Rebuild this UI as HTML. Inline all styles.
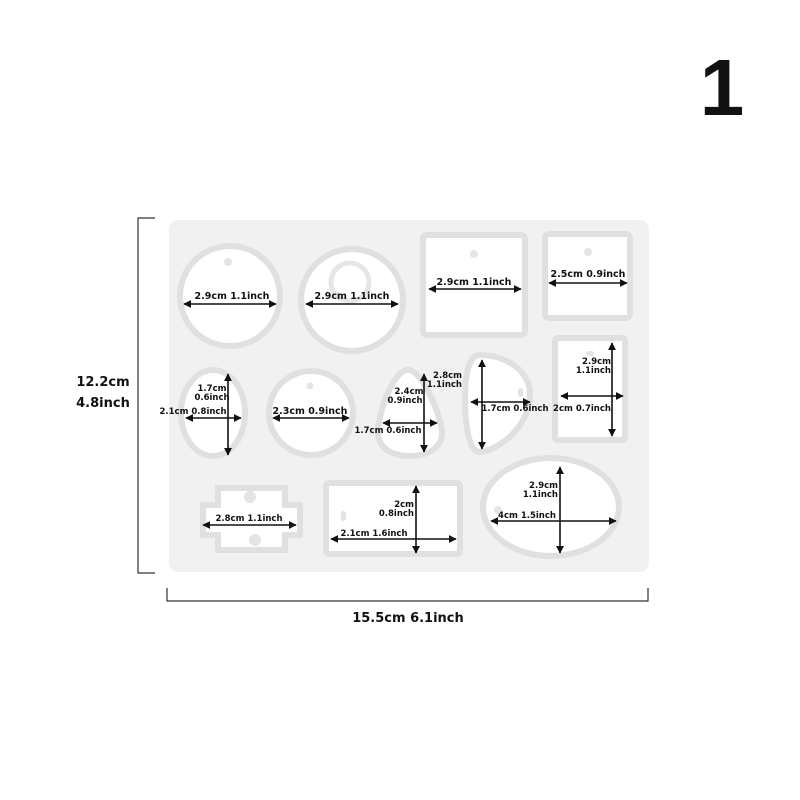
<!DOCTYPE html>
<html><head><style>
html,body{margin:0;padding:0;background:#fff;}
svg{display:block;}
text{font-family:"DejaVu Sans","Liberation Sans",sans-serif;font-weight:bold;fill:#111;}
.l{font-size:9.5px;}
.s{font-size:8.5px;}
</style></head><body>
<svg width="800" height="800" viewBox="0 0 800 800" xmlns="http://www.w3.org/2000/svg">
<defs>
<marker id="a" viewBox="0 0 10 10" refX="9" refY="5" markerWidth="5" markerHeight="5" orient="auto-start-reverse"><path d="M0,0L10,5L0,10z" fill="#111"/></marker>
</defs>
<text x="722" y="115" style="font-family:'Liberation Sans',sans-serif;font-size:80px;font-weight:bold" text-anchor="middle">1</text>

<rect x="169" y="220" width="480" height="352" rx="9" fill="#f1f1f1"/>

<g fill="#fff" stroke="#e0e0e0" stroke-width="6">
<circle cx="230" cy="296" r="50"/>
<circle cx="352" cy="300" r="51"/>
<rect x="423" y="235" width="102" height="100" rx="4"/>
<rect x="545" y="234" width="85" height="84" rx="4"/>
<ellipse cx="213" cy="413" rx="32" ry="43"/>
<circle cx="311" cy="413" r="42"/>
<path d="M410,370 C425,375 442,420 442,432 C442,450 425,456 410,456 C392,456 378,448 378,432 C378,412 395,366 410,370Z"/>
<path d="M480,355 C505,355 530,370 530,395 C530,425 500,450 480,452 C468,453 465,420 465,400 C465,370 470,355 480,355Z"/>
<rect x="555" y="338" width="70" height="102" rx="3"/>
<ellipse cx="551" cy="507" rx="68" ry="49"/>
<rect x="326" y="483" width="134" height="71" rx="3"/>
<path d="M218,488 H285 V505 H300 V535 H285 V550 H218 V535 H203 V505 H218Z"/>
</g>
<g fill="none" stroke="#e6e6e6" stroke-width="5">
<circle cx="350" cy="282" r="19"/>
</g>
<g fill="#e4e4e4">
<circle cx="228" cy="262" r="4"/><circle cx="474" cy="254" r="4"/><circle cx="588" cy="252" r="4"/>
<circle cx="310" cy="386" r="3.5"/><circle cx="498" cy="510" r="4"/>
<rect x="586" y="351" width="8" height="5" rx="2.5"/>
<rect x="518" y="388" width="5" height="9" rx="2.5"/>
<rect x="341" y="511" width="5" height="10" rx="2.5"/>
<circle cx="250" cy="497" r="6"/><circle cx="255" cy="540" r="6"/>
</g>

<g stroke="#111" stroke-width="1.6" marker-start="url(#a)" marker-end="url(#a)">
<line x1="184" y1="304" x2="276" y2="304"/>
<line x1="306" y1="304" x2="398" y2="304"/>
<line x1="429" y1="289" x2="521" y2="289"/>
<line x1="549" y1="283" x2="627" y2="283"/>
<line x1="186" y1="418" x2="241" y2="418"/>
<line x1="228" y1="374" x2="228" y2="455"/>
<line x1="273" y1="418" x2="349" y2="418"/>
<line x1="383" y1="423" x2="437" y2="423"/>
<line x1="424" y1="374" x2="424" y2="452"/>
<line x1="482" y1="360" x2="482" y2="449"/>
<line x1="471" y1="402" x2="530" y2="402"/>
<line x1="612" y1="343" x2="612" y2="436"/>
<line x1="561" y1="396" x2="623" y2="396"/>
<line x1="560" y1="467" x2="560" y2="553"/>
<line x1="491" y1="521" x2="616" y2="521"/>
<line x1="416" y1="486" x2="416" y2="553"/>
<line x1="331" y1="539" x2="456" y2="539"/>
<line x1="203" y1="525" x2="296" y2="525"/>
</g>

<text class="l" x="232" y="299" text-anchor="middle">2.9cm 1.1inch</text>
<text class="l" x="352" y="299" text-anchor="middle">2.9cm 1.1inch</text>
<text class="l" x="474" y="285" text-anchor="middle">2.9cm 1.1inch</text>
<text class="l" x="588" y="277" text-anchor="middle">2.5cm 0.9inch</text>
<text class="s" x="212" y="391" text-anchor="middle">1.7cm</text>
<text class="s" x="212" y="400" text-anchor="middle">0.6inch</text>
<text class="s" x="193" y="414" text-anchor="middle">2.1cm 0.8inch</text>
<text class="l" x="310" y="414" text-anchor="middle">2.3cm 0.9inch</text>
<text class="s" x="409" y="394" text-anchor="middle">2.4cm</text>
<text class="s" x="405" y="403" text-anchor="middle">0.9inch</text>
<text class="s" x="388" y="433" text-anchor="middle">1.7cm 0.6inch</text>
<text class="s" x="462" y="378" text-anchor="end">2.8cm</text>
<text class="s" x="462" y="387" text-anchor="end">1.1inch</text>
<text class="s" x="515" y="411" text-anchor="middle">1.7cm 0.6inch</text>
<text class="s" x="611" y="364" text-anchor="end">2.9cm</text>
<text class="s" x="611" y="373" text-anchor="end">1.1inch</text>
<text class="s" x="582" y="411" text-anchor="middle">2cm 0.7inch</text>
<text class="s" x="558" y="488" text-anchor="end">2.9cm</text>
<text class="s" x="558" y="497" text-anchor="end">1.1inch</text>
<text class="s" x="527" y="518" text-anchor="middle">4cm 1.5inch</text>
<text class="s" x="414" y="507" text-anchor="end">2cm</text>
<text class="s" x="414" y="516" text-anchor="end">0.8inch</text>
<text class="s" x="374" y="536" text-anchor="middle">2.1cm 1.6inch</text>
<text class="s" x="249" y="521" text-anchor="middle">2.8cm 1.1inch</text>

<g stroke="#333" stroke-width="1.2" fill="none">
<path d="M155,218 H138 V573 H155"/>
<path d="M167,588 V601 H648 V588"/>
</g>
<text x="103" y="386" text-anchor="middle" style="font-size:13px">12.2cm</text>
<text x="103" y="407" text-anchor="middle" style="font-size:13px">4.8inch</text>
<text x="408" y="622" text-anchor="middle" style="font-size:13px">15.5cm 6.1inch</text>
</svg>
</body></html>
